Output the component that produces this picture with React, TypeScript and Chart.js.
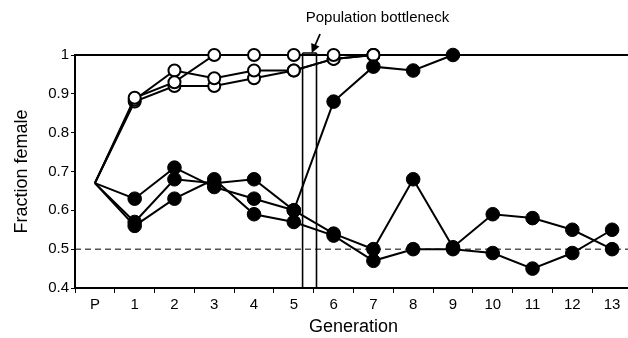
import React, { useEffect, useRef } from "react";
import { Chart, registerables } from "chart.js";

Chart.register(...registerables);

// ---- data ----
const generations = ["P", "1", "2", "3", "4", "5", "6", "7", "8", "9", "10", "11", "12", "13"];

const openA = [0.67, 0.89, 0.93, 1, 1, 1, 1, 1];
const openB = [0.67, 0.885, 0.96, 0.94, 0.96, 0.96, 0.99, 1];
const openC = [0.67, 0.88, 0.92, 0.92, 0.94, 0.96, 0.99, 1];

const filledA = [0.67, 0.63, 0.71, 0.66, 0.63, 0.6, 0.88, 0.97, 0.96, 1.0];
const filledB = [0.67, 0.57, 0.68, 0.67, 0.68, 0.6, 0.54, 0.5, 0.68, 0.505, 0.59, 0.58, 0.55, 0.5];
const filledC = [0.67, 0.56, 0.63, 0.68, 0.59, 0.57, 0.535, 0.47, 0.5, 0.5, 0.49, 0.45, 0.49, 0.55];

// fixation line after all lines reached 1
const fixedLine = [null, null, null, null, null, null, null, 1, 1, 1, 1, 1, 1, 1];

const yMin = 0.4;
const yMax = 1.0;
const yStep = 0.1;
const referenceLevel = 0.5;

// bottleneck annotation (category-index units)
const bottleneckFrom = 5.22;
const bottleneckTo = 5.57;
const arrowHeadAt = 5.45;
const arrowTailAt = 5.66;
const labelStartAt = 5.3;
const bottleneckLabel = "Population bottleneck";

const FONT = "'Liberation Sans', Arial, Helvetica, sans-serif";

const annotations = {
  id: "annotations",
  beforeDatasetsDraw(chart: any) {
    const { ctx, chartArea, scales } = chart;
    const x = scales.x;
    const y = scales.y;
    ctx.save();
    // dashed reference line
    const yRef = y.getPixelForValue(referenceLevel);
    ctx.strokeStyle = "#000";
    ctx.lineWidth = 1;
    ctx.setLineDash([6, 4]);
    ctx.beginPath();
    ctx.moveTo(chartArea.left, yRef);
    ctx.lineTo(chartArea.right, yRef);
    ctx.stroke();
    ctx.setLineDash([]);
    // top border
    ctx.lineWidth = 2;
    ctx.beginPath();
    ctx.moveTo(chartArea.left, chartArea.top);
    ctx.lineTo(chartArea.right, chartArea.top);
    ctx.stroke();
    // bottleneck lines
    ctx.lineWidth = 1.6;
    const x1 = x.getPixelForValue(bottleneckFrom);
    const x2 = x.getPixelForValue(bottleneckTo);
    ctx.beginPath();
    ctx.moveTo(x1, chartArea.top - 2);
    ctx.lineTo(x1, chartArea.bottom);
    ctx.moveTo(x2, chartArea.top - 2);
    ctx.lineTo(x2, chartArea.bottom);
    ctx.moveTo(x1, chartArea.top - 2);
    ctx.lineTo(x2, chartArea.top - 2);
    ctx.stroke();
    ctx.restore();
  },
  afterDraw(chart: any) {
    const { ctx, chartArea, scales } = chart;
    const x = scales.x;
    ctx.save();
    ctx.fillStyle = "#000";
    ctx.strokeStyle = "#000";
    ctx.font = `15px ${FONT}`;
    ctx.textAlign = "left";
    ctx.textBaseline = "middle";
    ctx.fillText(bottleneckLabel, x.getPixelForValue(labelStartAt), chartArea.top - 37);
    // arrow
    const hx = x.getPixelForValue(arrowHeadAt);
    const hy = chartArea.top - 2;
    const tx = x.getPixelForValue(arrowTailAt);
    const ty = chartArea.top - 21;
    const ang = Math.atan2(hy - ty, hx - tx);
    ctx.lineWidth = 1.8;
    ctx.beginPath();
    ctx.moveTo(tx, ty);
    ctx.lineTo(hx - 6 * Math.cos(ang), hy - 6 * Math.sin(ang));
    ctx.stroke();
    const L = 9;
    const W = 4.5;
    ctx.beginPath();
    ctx.moveTo(hx, hy);
    ctx.lineTo(hx - L * Math.cos(ang) + W * Math.sin(ang), hy - L * Math.sin(ang) - W * Math.cos(ang));
    ctx.lineTo(hx - L * Math.cos(ang) - W * Math.sin(ang), hy - L * Math.sin(ang) + W * Math.cos(ang));
    ctx.closePath();
    ctx.fill();
    ctx.restore();
  },
};

function filledSet(data: (number | null)[]) {
  return {
    data,
    borderColor: "#000",
    borderWidth: 2,
    backgroundColor: "#000",
    pointBackgroundColor: "#000",
    pointBorderColor: "#000",
    pointBorderWidth: 1,
    pointRadius: (c: any) => (c.dataIndex === 0 ? 0 : 6.8),
    tension: 0,
    clip: false as any,
    spanGaps: false,
  };
}

function openSet(data: (number | null)[]) {
  return {
    data,
    borderColor: "#000",
    borderWidth: 2,
    backgroundColor: "#fff",
    pointBackgroundColor: "#fff",
    pointBorderColor: "#000",
    pointBorderWidth: 2,
    pointRadius: (c: any) => (c.dataIndex === 0 ? 0 : 6),
    tension: 0,
    clip: false as any,
  };
}

export default function App() {
  const ref = useRef<HTMLCanvasElement | null>(null);
  useEffect(() => {
    if (!ref.current) return;
    const chart = new Chart(ref.current, {
      type: "line",
      data: {
        labels: generations,
        datasets: [
          filledSet(filledA),
          filledSet(filledB),
          filledSet(filledC),
          openSet(openA),
          openSet(openB),
          openSet(openC),
          {
            data: fixedLine,
            borderColor: "#000",
            borderWidth: 2,
            pointRadius: 0,
            clip: false as any,
          },
        ] as any,
      },
      options: {
        responsive: false,
        animation: false,
        events: [],
        layout: { padding: { top: 55, right: 6, left: 0, bottom: 0 } },
        plugins: { legend: { display: false }, tooltip: { enabled: false } },
        scales: {
          x: {
            type: "category",
            offset: true,
            grid: {
              offset: true,
              display: true,
              drawOnChartArea: false,
              drawTicks: true,
              tickLength: 5,
              color: "#000",
              lineWidth: 1,
            },
            border: { display: true, color: "#000", width: 2 },
            ticks: {
              color: "#000",
              font: { family: FONT, size: 15 },
              padding: 3,
              maxRotation: 0,
              autoSkip: false,
            },
            title: {
              display: true,
              text: "Generation",
              color: "#000",
              font: { family: FONT, size: 18 },
              padding: { top: 0, bottom: 0 },
            },
            afterFit: (s: any) => {
              s.height = 50;
            },
          },
          y: {
            min: yMin,
            max: yMax,
            grid: {
              display: true,
              drawOnChartArea: false,
              drawTicks: true,
              tickLength: 4,
              color: "#000",
              lineWidth: 1,
            },
            border: { display: true, color: "#000", width: 2 },
            ticks: {
              stepSize: yStep,
              color: "#000",
              font: { family: FONT, size: 15 },
              padding: 2,
              callback: (v: any) => {
                const n = Number(v);
                return Math.abs(n - 1) < 1e-9 ? "1" : n.toFixed(1);
              },
            },
            title: {
              display: true,
              text: "Fraction female",
              color: "#000",
              font: { family: FONT, size: 18 },
              padding: { top: 11, bottom: 0 },
            },
            afterFit: (s: any) => {
              s.width = 75;
            },
          },
        },
      },
      plugins: [annotations],
    });
    return () => chart.destroy();
  }, []);
  return (
    <div
      style={{
        position: "fixed",
        left: 0,
        top: 0,
        width: 628,
        height: 338,
        overflow: "hidden",
        background: "#fff",
      }}
    >
      <canvas ref={ref} width={640} height={338} style={{ display: "block", width: 640, height: 338 }} />
    </div>
  );
}
